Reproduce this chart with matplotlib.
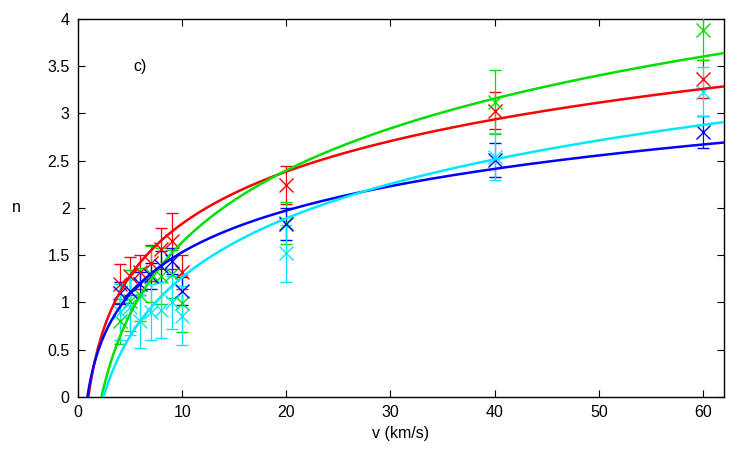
import numpy as np
import matplotlib
matplotlib.use("Agg")
import matplotlib.pyplot as plt

plt.rcParams["font.family"] = ["Liberation Sans", "DejaVu Sans"]

# 速度 (km/s)
v = [4, 5, 6, 7, 8, 9, 10, 20, 40, 60]

# 各组测量值与误差
n_red = [1.20, 1.28, 1.32, 1.42, 1.57, 1.65, 1.32, 2.24, 3.03, 3.36]
e_red = [0.21, 0.20, 0.18, 0.19, 0.22, 0.30, 0.18, 0.20, 0.20, 0.20]
n_green = [0.80, 1.02, 1.08, 1.30, 1.28, 1.30, 0.99, 1.84, 3.12, 3.88]
e_green = [0.24, 0.32, 0.28, 0.30, 0.30, 0.25, 0.30, 0.22, 0.34, 0.32]
n_blue = [1.10, 1.12, 1.20, 1.28, 1.38, 1.44, 1.12, 1.83, 2.51, 2.80]
e_blue = [0.12, 0.13, 0.12, 0.14, 0.16, 0.14, 0.15, 0.17, 0.18, 0.17]
n_cyan = [0.90, 0.95, 0.80, 0.90, 0.92, 1.00, 0.86, 1.52, 2.54, 3.23]
e_cyan = [0.30, 0.30, 0.28, 0.30, 0.30, 0.28, 0.31, 0.30, 0.25, 0.26]

# 拟合参数 n = a * ln(v / v0)
fit_a = [0.796, 1.097, 0.636, 0.900]
fit_v0 = [1.00, 2.25, 0.90, 2.45]

colors = ["#ff0000", "#00e000", "#0000ff", "#00e8ff"]
series = [(n_red, e_red), (n_green, e_green), (n_blue, e_blue), (n_cyan, e_cyan)]

fig = plt.figure(figsize=(7.5, 4.5), dpi=100)
ax = fig.add_axes([0.104, 0.118, 0.861, 0.840])

for (n, e), c in zip(series, colors):
    ax.errorbar(v, n, yerr=e, fmt="x", color=c, ecolor=c, elinewidth=0.9,
                capsize=4, capthick=0.9, markersize=10, markeredgewidth=1.0,
                zorder=3)

for a, v0, c in zip(fit_a, fit_v0, colors):
    vv = np.linspace(v0, 62, 400)
    ax.plot(vv, a * np.log(vv / v0), color=c, linewidth=1.8, zorder=4)

ax.set_xlim(0, 62)
ax.set_ylim(0, 4)
ax.set_xticks(range(0, 61, 10))
ax.set_yticks([0, 0.5, 1, 1.5, 2, 2.5, 3, 3.5, 4])
ax.set_yticklabels(["0", "0.5", "1", "1.5", "2", "2.5", "3", "3.5", "4"])
ax.tick_params(direction="in", top=True, right=True, length=5, labelsize=11.5, pad=6)
for s in ax.spines.values():
    s.set_linewidth(1.0)

ax.set_xlabel("v (km/s)", fontsize=11.5)
ax.set_ylabel("n", fontsize=11.5, rotation=0, va="center")
ax.yaxis.set_label_coords(-0.095, 0.5)
ax.text(5.3, 3.5, "c)", fontsize=11.5, va="center")

fig.savefig("out.png", dpi=100)
